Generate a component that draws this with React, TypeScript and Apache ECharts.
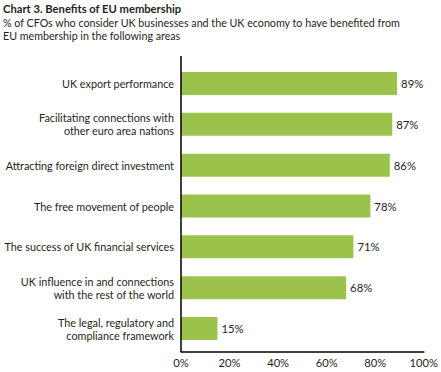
import React, { useEffect, useRef } from "react";
import * as echarts from "echarts";

const titleText = "Chart 3. Benefits of EU membership";
const subtitleText =
  "% of CFOs who consider UK businesses and the UK economy to have benefited from\nEU membership in the following areas";

const categories = [
  "UK export performance",
  "Facilitating connections with\nother euro area nations",
  "Attracting foreign direct investment",
  "The free movement of people",
  "The success of UK financial services",
  "UK influence in and connections\nwith the rest of the world",
  "The legal, regulatory and\ncompliance framework",
];
const values = [89, 87, 86, 78, 71, 68, 15];
const xTicks = [0, 20, 40, 60, 80, 100];

const FONT = "Lato";
const TXT = "#231f20";

export default function App() {
  const ref = useRef<HTMLDivElement>(null);
  useEffect(() => {
    document.body.style.margin = "0";
    const chart = echarts.init(ref.current!, undefined, { renderer: "svg" });
    chart.setOption({
      animation: false,
      backgroundColor: "#ffffff",
      textStyle: { fontFamily: FONT },
      title: {
        text: titleText,
        subtext: subtitleText,
        left: 3,
        top: 2,
        padding: 0,
        itemGap: 1,
        textStyle: { fontFamily: FONT, fontSize: 11.2, fontWeight: "bold", color: TXT, lineHeight: 13 },
        subtextStyle: { fontFamily: FONT, fontSize: 10.7, color: TXT, lineHeight: 13 },
      },
      grid: { left: 181, right: 17, top: 63, bottom: 23, containLabel: false },
      xAxis: {
        type: "value",
        min: xTicks[0],
        max: xTicks[xTicks.length - 1],
        interval: 20,
        offset: 3,
        axisLine: { show: true, lineStyle: { color: "#000", width: 1.5 } },
        axisTick: { show: false },
        splitLine: { show: false },
        axisLabel: {
          formatter: "{value}%",
          fontFamily: FONT,
          fontSize: 11.2,
          color: TXT,
          margin: 5,
        },
      },
      yAxis: {
        type: "category",
        data: categories,
        inverse: true,
        axisLine: { show: false },
        axisTick: { show: false },
        axisLabel: {
          fontFamily: FONT,
          fontSize: 10.8,
          color: TXT,
          margin: 7,
          lineHeight: 13,
        },
      },
      graphic: [
        {
          type: "line",
          shape: { x1: 181, y1: 56, x2: 181, y2: 352 },
          style: { stroke: "#000", lineWidth: 1.5 },
          z: 10,
        },
      ],
      series: [
        {
          type: "bar",
          data: values,
          barWidth: 23,
          itemStyle: { color: "#9bc34c" },
          label: {
            show: true,
            position: "right",
            distance: 4,
            formatter: "{c}%",
            fontFamily: FONT,
            fontSize: 11.3,
            color: TXT,
          },
        },
      ],
    });
    return () => chart.dispose();
  }, []);
  return <div ref={ref} style={{ width: 441, height: 372 }} />;
}
